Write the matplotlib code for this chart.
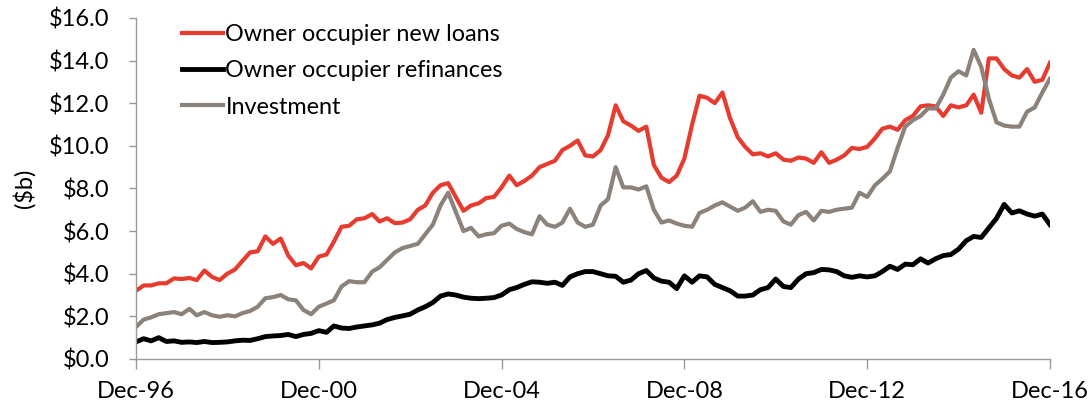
import numpy as np
import pandas as pd
import matplotlib
matplotlib.use("Agg")
import matplotlib.pyplot as plt
import matplotlib.dates as mdates
from matplotlib.ticker import FuncFormatter

#-----------------
# data: $b per month, read every second month from Dec-96 to Dec-16
dates = pd.date_range("1996-12-01", "2016-12-01", freq="2MS")

new_loans = [
    3.2, 3.45, 3.45, 3.55, 3.55, 3.78, 3.75, 3.8, 3.7, 4.15,
    3.85, 3.7, 4.0, 4.2, 4.6, 5.0, 5.05, 5.75, 5.4, 5.65,
    4.85, 4.4, 4.5, 4.25, 4.8, 4.9, 5.5, 6.2, 6.25, 6.55,
    6.6, 6.8, 6.45, 6.6, 6.37, 6.4, 6.55, 7.0, 7.2, 7.8,
    8.15, 8.25, 7.6, 6.95, 7.2, 7.3, 7.55, 7.6, 8.05, 8.6,
    8.15, 8.35, 8.6, 9.0, 9.15, 9.3, 9.8, 10.0, 10.25, 9.55,
    9.5, 9.8, 10.5, 11.9, 11.15, 10.95, 10.7, 10.9, 9.1, 8.5,
    8.3, 8.6, 9.4, 11.0, 12.35, 12.25, 12.0, 12.5, 11.3, 10.4,
    9.95, 9.6, 9.65, 9.5, 9.65, 9.35, 9.3, 9.45, 9.4, 9.2,
    9.7, 9.2, 9.35, 9.55, 9.9, 9.85, 9.95, 10.35, 10.8, 10.9,
    10.75, 11.2, 11.4, 11.85, 11.9, 11.85, 11.4, 11.9, 11.8, 11.9,
    12.4, 11.55, 14.1, 14.1, 13.6, 13.3, 13.2, 13.6, 13.0, 13.1,
    13.9,
]

refinances = [
    0.8, 0.95, 0.85, 1.0, 0.82, 0.85, 0.78, 0.8, 0.77, 0.82,
    0.77, 0.78, 0.8, 0.85, 0.88, 0.87, 0.95, 1.05, 1.08, 1.1,
    1.15, 1.05, 1.15, 1.2, 1.33, 1.25, 1.55, 1.45, 1.43, 1.5,
    1.55, 1.6, 1.68, 1.85, 1.95, 2.02, 2.1, 2.3, 2.45, 2.65,
    2.95, 3.05, 3.0, 2.9, 2.85, 2.83, 2.85, 2.88, 3.0, 3.25,
    3.35, 3.5, 3.62, 3.6, 3.55, 3.6, 3.45, 3.85, 4.0, 4.1,
    4.1, 4.0, 3.9, 3.88, 3.6, 3.7, 4.0, 4.15, 3.8, 3.65,
    3.6, 3.3, 3.9, 3.6, 3.9, 3.85, 3.5, 3.35, 3.2, 2.95,
    2.95, 3.0, 3.25, 3.35, 3.75, 3.4, 3.35, 3.75, 4.0, 4.05,
    4.2, 4.18, 4.1, 3.9, 3.83, 3.9, 3.85, 3.9, 4.1, 4.35,
    4.2, 4.45, 4.42, 4.7, 4.5, 4.7, 4.85, 4.9, 5.15, 5.55,
    5.75, 5.7, 6.15, 6.6, 7.25, 6.85, 6.95, 6.8, 6.7, 6.8,
    6.3,
]

investment = [
    1.5, 1.85, 1.95, 2.1, 2.15, 2.2, 2.1, 2.35, 2.05, 2.2,
    2.05, 1.98, 2.05, 2.0, 2.15, 2.25, 2.45, 2.85, 2.9, 3.0,
    2.8, 2.75, 2.3, 2.1, 2.45, 2.6, 2.75, 3.4, 3.65, 3.6,
    3.6, 4.1, 4.3, 4.65, 5.0, 5.2, 5.3, 5.4, 5.85, 6.3,
    7.2, 7.8, 6.9, 6.0, 6.15, 5.75, 5.85, 5.9, 6.25, 6.35,
    6.1, 5.95, 5.85, 6.7, 6.3, 6.2, 6.4, 7.05, 6.4, 6.2,
    6.3, 7.2, 7.5, 9.0, 8.05, 8.05, 7.95, 8.1, 7.0, 6.4,
    6.5, 6.35, 6.25, 6.2, 6.85, 7.0, 7.2, 7.35, 7.15, 6.95,
    7.1, 7.4, 6.9, 7.0, 6.95, 6.45, 6.3, 6.75, 6.9, 6.5,
    6.95, 6.9, 7.0, 7.05, 7.1, 7.8, 7.6, 8.15, 8.45, 8.8,
    9.9, 10.9, 11.2, 11.4, 11.75, 11.75, 12.4, 13.2, 13.5, 13.3,
    14.5, 13.7, 12.2, 11.1, 10.95, 10.9, 10.9, 11.6, 11.8, 12.5,
    13.15,
]

labels = ["Owner occupier new loans", "Owner occupier refinances", "Investment"]
colors = ["#E63B2E", "#000000", "#8C8279"]
widths = [3.0, 3.5, 3.0]

#-----------------
# plot
plt.rcParams["font.family"] = ["Lato", "DejaVu Sans"]
fig = plt.figure(figsize=(10.92, 4.07), dpi=100)
ax = fig.add_axes([0.1245, 0.118, 0.8370, 0.838])

for series, label, color, lw in zip([new_loans, refinances, investment], labels, colors, widths):
    ax.plot(dates, series, color=color, lw=lw, label=label, solid_joinstyle="round")

ax.set_xlim(pd.Timestamp("1996-12-01"), pd.Timestamp("2016-12-01"))
ax.set_ylim(0, 16)
ax.set_yticks(np.arange(0, 17, 2))
ax.yaxis.set_major_formatter(FuncFormatter(lambda v, p: r"\$%.1f" % v))
ax.set_xticks(pd.date_range("1996-12-01", "2016-12-01", freq="48MS"))
ax.xaxis.set_major_formatter(mdates.DateFormatter("%b-%y"))

for side in ["top", "right"]:
    ax.spines[side].set_visible(False)
for side in ["left", "bottom"]:
    ax.spines[side].set_color("#999999")
    ax.spines[side].set_linewidth(1.0)
ax.tick_params(axis="both", colors="#999999", labelcolor="black", labelsize=17, width=1.0)
ax.tick_params(axis="x", length=7, pad=9)
ax.tick_params(axis="y", length=5, pad=14)

ax.set_ylabel(r"(\$b)", fontsize=17, labelpad=10)

ax.legend(loc="upper left", bbox_to_anchor=(0.04, 1.01), frameon=False, fontsize=16.8,
          handlelength=1.75, handletextpad=0.12, labelspacing=0.66, borderaxespad=0)

fig.savefig("out.png", dpi=100)
